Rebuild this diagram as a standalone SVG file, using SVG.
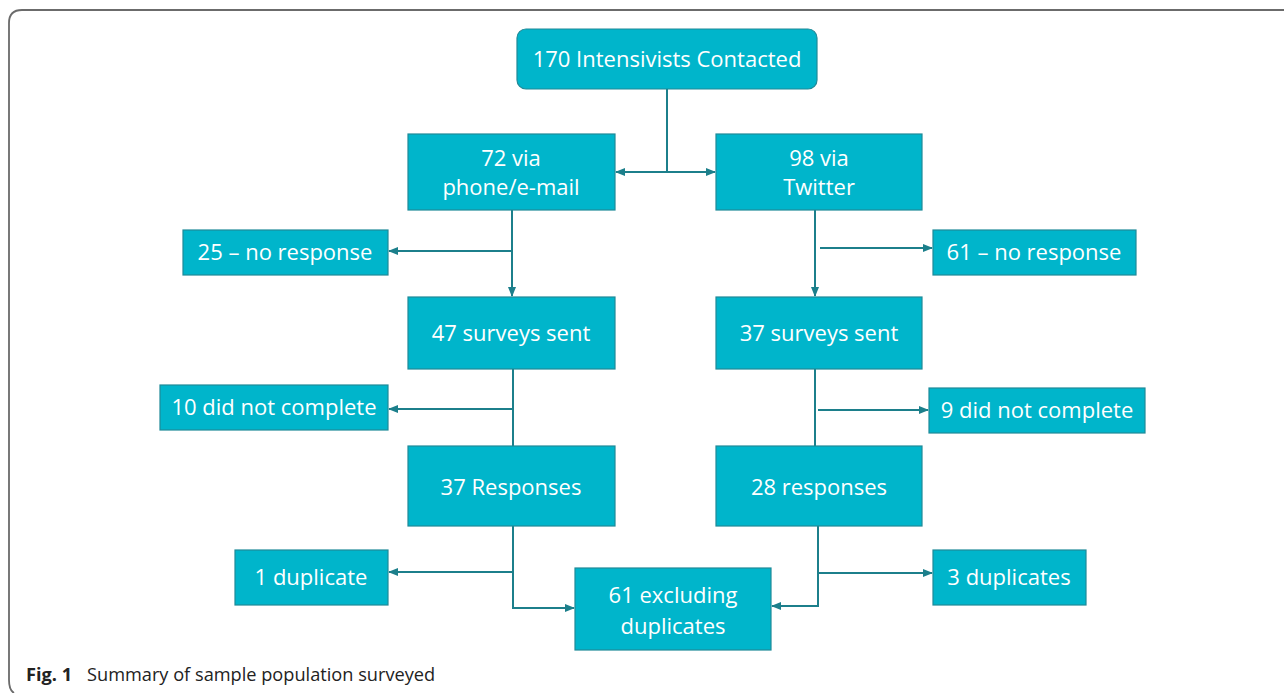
<svg xmlns="http://www.w3.org/2000/svg" width="1284" height="693" viewBox="0 0 1284 693">
<defs>
<style>
.box{fill:#00B5CB;stroke:#1f8a98;stroke-width:1.2}
.t{font-family:"Open Sans","Liberation Sans",sans-serif;font-size:22px;fill:#ffffff;text-anchor:middle}
.c{fill:none;stroke:#1c7f8b;stroke-width:2}
.cap{font-family:"Open Sans","Liberation Sans",sans-serif;font-size:18.2px;fill:#222}
</style>
<marker id="ah" viewBox="0 0 10 10" refX="9" refY="5" markerWidth="10" markerHeight="10" markerUnits="userSpaceOnUse" orient="auto">
<path d="M0,1 L10,5 L0,9 Z" fill="#1c7f8b"/>
</marker>
</defs>
<rect width="1284" height="693" fill="#ffffff"/>
<path d="M1290,10 H22 Q9,10 9,23 V680 Q9,690 14,693" fill="none" stroke="#6b6b6b" stroke-width="1.8"/>

<g id="connectors">
<path class="c" d="M667,89 V172"/>
<path class="c" d="M667,172 H616" marker-end="url(#ah)"/>
<path class="c" d="M667,172 H715" marker-end="url(#ah)"/>
<path class="c" d="M512,210 V296" marker-end="url(#ah)"/>
<path class="c" d="M512,251 H389" marker-end="url(#ah)"/>
<path class="c" d="M815,210 V296" marker-end="url(#ah)"/>
<path class="c" d="M820,248 H932" marker-end="url(#ah)"/>
<path class="c" d="M513,369 V446"/>
<path class="c" d="M513,409 H389" marker-end="url(#ah)"/>
<path class="c" d="M815,369 V446"/>
<path class="c" d="M818,410 H928" marker-end="url(#ah)"/>
<path class="c" d="M513,526 V608 H574" marker-end="url(#ah)"/>
<path class="c" d="M513,572 H389" marker-end="url(#ah)"/>
<path class="c" d="M818,526 V606 H772" marker-end="url(#ah)"/>
<path class="c" d="M818,573 H932" marker-end="url(#ah)"/>
</g>

<g id="n-contacted"><rect class="box" x="517" y="29" width="300" height="60" rx="9"/><text class="t" x="667" y="67">170 Intensivists Contacted</text></g>
<g id="n-phone"><rect class="box" x="408" y="134" width="207" height="76"/><text class="t" x="511" y="166">72 via</text><text class="t" x="511" y="195">phone/e-mail</text></g>
<g id="n-twitter"><rect class="box" x="716" y="134" width="206" height="76"/><text class="t" x="819" y="166">98 via</text><text class="t" x="819" y="195">Twitter</text></g>
<g id="n-noresp-left"><rect class="box" x="183" y="230" width="205" height="45"/><text class="t" x="285" y="260">25 – no response</text></g>
<g id="n-noresp-right"><rect class="box" x="933" y="230" width="203" height="45"/><text class="t" x="1034" y="260">61 – no response</text></g>
<g id="n-sent-left"><rect class="box" x="408" y="297" width="207" height="72"/><text class="t" x="511" y="341">47 surveys sent</text></g>
<g id="n-sent-right"><rect class="box" x="716" y="297" width="206" height="72"/><text class="t" x="819" y="341">37 surveys sent</text></g>
<g id="n-incomplete-left"><rect class="box" x="160" y="385" width="228" height="45"/><text class="t" x="274" y="415">10 did not complete</text></g>
<g id="n-incomplete-right"><rect class="box" x="929" y="388" width="216" height="45"/><text class="t" x="1037" y="418">9 did not complete</text></g>
<g id="n-resp-left"><rect class="box" x="408" y="446" width="207" height="80"/><text class="t" x="511" y="495">37 Responses</text></g>
<g id="n-resp-right"><rect class="box" x="716" y="446" width="206" height="80"/><text class="t" x="819" y="495">28 responses</text></g>
<g id="n-dup-left"><rect class="box" x="235" y="550" width="153" height="55"/><text class="t" x="311" y="585">1 duplicate</text></g>
<g id="n-dup-right"><rect class="box" x="933" y="550" width="153" height="55"/><text class="t" x="1009" y="585">3 duplicates</text></g>
<g id="n-final"><rect class="box" x="575" y="568" width="196" height="82"/><text class="t" x="673" y="603">61 excluding</text><text class="t" x="673" y="634">duplicates</text></g>

<text class="cap" x="26" y="681"><tspan font-weight="bold">Fig. 1</tspan><tspan x="87">Summary of sample population surveyed</tspan></text>
</svg>
